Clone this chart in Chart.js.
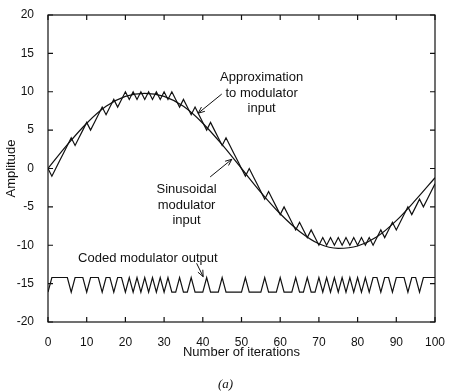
<!DOCTYPE html>
<html>
<head>
<meta charset="utf-8">
<script src="https://cdn.jsdelivr.net/npm/chart.js@4.4.0/dist/chart.umd.min.js"></script>
<style>
  html, body { margin: 0; padding: 0; background: #fff; }
  #wrap { position: relative; width: 451px; height: 391px; }
  #caption { position: absolute; left: 0; width: 451px; top: 376px; text-align: center;
             font: italic 13px "Liberation Serif", serif; color: #111; }
</style>
</head>
<body>
<div id="wrap">
  <canvas id="chart" width="451" height="391"></canvas>
  <div id="caption">(a)</div>
</div>
<script>
// Sinusoidal modulator input (read every 5 iterations)
const sineX = [0, 5, 10, 15, 20, 25, 30, 35, 40, 45, 50, 55, 60, 65, 70, 75, 80, 85, 90, 95, 100];
const sineY = [0, 3.1, 5.9, 8.1, 9.4, 9.8, 9.4, 8.1, 5.9, 3.1, 0, -3.1, -5.9, -8.2, -9.8, -10.4, -10.1, -8.9, -6.8, -4.1, -1.2];

// Staircase approximation, one value per iteration (0..100)
const approxY = [
  0, -1, 0, 1, 2, 3, 4, 3, 4, 5,
  6, 5, 6, 7, 8, 7, 8, 9, 8, 9,
  10, 9, 10, 9, 10, 9, 10, 9, 10, 9,
  10, 9, 10, 9, 8, 9, 8, 7, 8, 7,
  6, 5, 6, 5, 4, 3, 4, 3, 2, 1,
  0, -1, 0, -1, -2, -3, -4, -3, -4, -5,
  -6, -5, -6, -7, -8, -7, -8, -9, -8, -9,
  -10, -9, -10, -9, -10, -9, -10, -9, -10, -9,
  -10, -9, -10, -9, -10, -9, -8, -9, -8, -7,
  -8, -7, -6, -5, -6, -5, -4, -5, -4, -3,
  -2
];

// Coded modulator output, one bit per iteration (0..100)
const codedBits = [
  0, 1, 1, 1, 1, 1, 0, 1, 1, 1,
  0, 1, 1, 1, 0, 1, 1, 0, 1, 1,
  0, 1, 0, 1, 0, 1, 0, 1, 0, 1,
  0, 1, 0, 0, 1, 0, 0, 1, 0, 0,
  0, 1, 0, 0, 0, 1, 0, 0, 0, 0,
  0, 1, 0, 0, 0, 0, 1, 0, 0, 0,
  1, 0, 0, 0, 1, 0, 0, 1, 0, 0,
  1, 0, 1, 0, 1, 0, 1, 0, 1, 0,
  1, 0, 1, 0, 1, 1, 0, 1, 1, 0,
  1, 1, 1, 0, 1, 1, 0, 1, 1, 1,
  1
];
const codedLevels = [-16.1, -14.2]; // bit 0, bit 1

// Labels and arrows, placed in data units
const notes = [
  { lines: ['Approximation', 'to modulator', 'input'], x: 55.2, y: 9.8 },
  { lines: ['Sinusoidal', 'modulator', 'input'], x: 35.8, y: -4.75 },
  { lines: ['Coded modulator output'], x: 25.8, y: -11.7 }
];
const arrows = [
  { from: [44.9, 9.7], to: [38.8, 7.2] },
  { from: [41.9, -1.1], to: [47.5, 1.2] },
  { from: [38.4, -12.35], to: [40.1, -14.1] }
];

const ink = '#111';
const font = '"Liberation Sans", Arial, sans-serif';

// Marco, ticks hacia dentro, textos y flechas
const decor = {
  id: 'decor',
  afterDatasetsDraw(chart) {
    const { ctx, chartArea: a, scales: { x, y } } = chart;
    ctx.save();
    ctx.strokeStyle = ink;
    ctx.lineWidth = 1.2;
    ctx.strokeRect(a.left, a.top, a.right - a.left, a.bottom - a.top);

    ctx.beginPath();
    x.ticks.forEach(t => {
      const px = x.getPixelForValue(t.value);
      ctx.moveTo(px, a.bottom); ctx.lineTo(px, a.bottom - 5);
      ctx.moveTo(px, a.top); ctx.lineTo(px, a.top + 5);
    });
    y.ticks.forEach(t => {
      const py = y.getPixelForValue(t.value);
      ctx.moveTo(a.left, py); ctx.lineTo(a.left + 5, py);
      ctx.moveTo(a.right, py); ctx.lineTo(a.right - 5, py);
    });
    ctx.stroke();

    ctx.fillStyle = ink;
    ctx.font = '13px ' + font;
    ctx.textAlign = 'center';
    ctx.textBaseline = 'middle';
    notes.forEach(n => {
      const cx = x.getPixelForValue(n.x);
      const cy = y.getPixelForValue(n.y);
      n.lines.forEach((s, i) => ctx.fillText(s, cx, cy + (i - (n.lines.length - 1) / 2) * 15.5));
    });

    ctx.lineWidth = 1;
    arrows.forEach(ar => {
      const x0 = x.getPixelForValue(ar.from[0]), y0 = y.getPixelForValue(ar.from[1]);
      const x1 = x.getPixelForValue(ar.to[0]), y1 = y.getPixelForValue(ar.to[1]);
      const ang = Math.atan2(y1 - y0, x1 - x0);
      ctx.beginPath();
      ctx.moveTo(x0, y0); ctx.lineTo(x1, y1);
      ctx.moveTo(x1 - 7 * Math.cos(ang - 0.4), y1 - 7 * Math.sin(ang - 0.4));
      ctx.lineTo(x1, y1);
      ctx.lineTo(x1 - 7 * Math.cos(ang + 0.4), y1 - 7 * Math.sin(ang + 0.4));
      ctx.stroke();
    });
    ctx.restore();
  }
};

const lineStyle = { borderColor: ink, borderWidth: 1.2, pointRadius: 0, fill: false };

new Chart(document.getElementById('chart').getContext('2d'), {
  type: 'line',
  data: {
    datasets: [
      Object.assign({ label: 'Sinusoidal modulator input',
        data: sineX.map((v, i) => ({ x: v, y: sineY[i] })),
        cubicInterpolationMode: 'monotone' }, lineStyle),
      Object.assign({ label: 'Approximation to modulator input',
        data: approxY.map((v, i) => ({ x: i, y: v })), tension: 0 }, lineStyle),
      Object.assign({ label: 'Coded modulator output',
        data: codedBits.map((b, i) => ({ x: i, y: codedLevels[b] })), tension: 0 }, lineStyle)
    ]
  },
  options: {
    responsive: false,
    animation: false,
    devicePixelRatio: 1,
    layout: { padding: { top: 15, right: 16, bottom: 31, left: 4 } },
    plugins: { legend: { display: false }, tooltip: { enabled: false } },
    scales: {
      x: {
        type: 'linear', min: 0, max: 100,
        grid: { display: false }, border: { display: false },
        ticks: { stepSize: 10, color: ink, padding: 5, font: { family: font, size: 12 } },
        title: { display: true, text: 'Number of iterations', color: ink, padding: 0,
                 font: { family: font, size: 13 } },
        afterFit: s => { s.height = 38; }
      },
      y: {
        min: -20, max: 20,
        grid: { display: false }, border: { display: false },
        ticks: { stepSize: 5, color: ink, padding: 6, font: { family: font, size: 12 } },
        title: { display: true, text: 'Amplitude', color: ink, padding: 0,
                 font: { family: font, size: 13 } },
        afterFit: s => { s.width = 44; }
      }
    }
  },
  plugins: [decor]
});
</script>
</body>
</html>
